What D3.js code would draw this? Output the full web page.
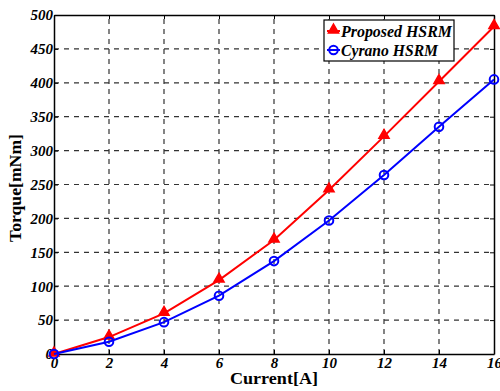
<!DOCTYPE html>
<html>
<head>
<meta charset="utf-8">
<script src="https://cdn.jsdelivr.net/npm/d3@7"></script>
<style>
  body { margin: 0; background: #fff; }
  svg { display: block; font-family: "Liberation Serif", "Times New Roman", serif; }
</style>
</head>
<body>
<div id="chart"></div>
<script>
const current = [0, 2, 4, 6, 8, 10, 12, 14, 16];
const proposedTorque = [0, 25, 60, 109, 168, 242, 321, 402, 483];
const cyranoTorque = [0, 18, 47, 86, 137, 197, 264, 335, 405];
const xTicks = [0, 2, 4, 6, 8, 10, 12, 14, 16];
const yTicks = [0, 50, 100, 150, 200, 250, 300, 350, 400, 450, 500];

const width = 500, height = 391;
const margin = { top: 15, right: 6, bottom: 37, left: 54 };

const svg = d3.select('#chart')
  .append('svg')
  .attr('width', width)
  .attr('height', height);

const x = d3.scaleLinear()
  .domain([0, 16])
  .range([margin.left, width - margin.right]);
const y = d3.scaleLinear()
  .domain([0, 500])
  .range([height - margin.bottom, margin.top]);

// dashed grid
const grid = svg.append('g')
  .attr('stroke', '#333')
  .attr('stroke-width', 1.2)
  .attr('stroke-dasharray', '5,5');
grid.selectAll('line.gx')
  .data(xTicks.slice(1, -1))
  .enter().append('line')
  .attr('x1', d => x(d)).attr('x2', d => x(d))
  .attr('y1', y(0)).attr('y2', y(500));
grid.selectAll('line.gy')
  .data(yTicks.slice(1, -1))
  .enter().append('line')
  .attr('y1', d => y(d)).attr('y2', d => y(d))
  .attr('x1', x(0)).attr('x2', x(16));

// axes with inward ticks
const xAxis = svg.append('g')
  .attr('transform', `translate(0,${y(0)})`)
  .call(d3.axisBottom(x).tickValues(xTicks).tickSizeInner(-4).tickSizeOuter(0).tickPadding(3));
const yAxis = svg.append('g')
  .attr('transform', `translate(${x(0)},0)`)
  .call(d3.axisLeft(y).tickValues(yTicks).tickSizeInner(-4).tickSizeOuter(0).tickPadding(1));
svg.append('g')
  .attr('transform', `translate(0,${y(500)})`)
  .call(d3.axisTop(x).tickValues(xTicks).tickSizeInner(-4).tickSizeOuter(0).tickFormat(''));
svg.append('g')
  .attr('transform', `translate(${x(16)},0)`)
  .call(d3.axisRight(y).tickValues(yTicks).tickSizeInner(-4).tickSizeOuter(0).tickFormat(''));

svg.selectAll('.domain').attr('stroke', '#000').attr('stroke-width', 1.5);
svg.selectAll('.tick line').attr('stroke', '#000');
[xAxis, yAxis].forEach(a => a.selectAll('text')
  .attr('font-family', '"Liberation Serif", serif')
  .attr('font-size', 15)
  .attr('font-weight', 'bold')
  .attr('font-style', 'italic')
  .attr('fill', '#000'));

// axis titles
svg.append('text')
  .attr('x', x(8))
  .attr('y', 384)
  .attr('text-anchor', 'middle')
  .attr('font-size', 16)
  .attr('font-weight', 'bold')
  .attr('textLength', 88)
  .attr('lengthAdjust', 'spacingAndGlyphs')
  .text('Current[A]');
svg.append('text')
  .attr('transform', `translate(21,${(133 + 243) / 2}) rotate(-90)`)
  .attr('text-anchor', 'middle')
  .attr('font-size', 17)
  .attr('font-weight', 'bold')
  .attr('textLength', 108)
  .attr('lengthAdjust', 'spacingAndGlyphs')
  .text('Torque[mNm]');

const line = d3.line()
  .x((d, i) => x(current[i]))
  .y(d => y(d));

const triangle = d3.symbol().type(d3.symbolTriangle).size(45);

// proposed series
svg.append('path')
  .datum(proposedTorque)
  .attr('fill', 'none')
  .attr('stroke', '#ff0000')
  .attr('stroke-width', 2)
  .attr('d', line);
svg.selectAll('path.tri')
  .data(proposedTorque)
  .enter().append('path')
  .attr('class', 'tri')
  .attr('transform', (d, i) => `translate(${x(current[i])},${y(d) - 1})`)
  .attr('d', triangle)
  .attr('fill', '#ff0000')
  .attr('stroke', '#ff0000')
  .attr('stroke-width', 1.5);

// cyrano series
svg.append('path')
  .datum(cyranoTorque)
  .attr('fill', 'none')
  .attr('stroke', '#0000ff')
  .attr('stroke-width', 2)
  .attr('d', line);
svg.selectAll('circle.cy')
  .data(cyranoTorque)
  .enter().append('circle')
  .attr('class', 'cy')
  .attr('cx', (d, i) => x(current[i]))
  .attr('cy', d => y(d))
  .attr('r', 4.3)
  .attr('fill', 'none')
  .attr('stroke', '#0000ff')
  .attr('stroke-width', 2);

// legend
const legend = svg.append('g').attr('transform', 'translate(324,20)');
legend.append('rect')
  .attr('width', 130).attr('height', 41)
  .attr('fill', '#fff')
  .attr('stroke', '#000')
  .attr('stroke-width', 1.2);
const items = [
  { name: 'Proposed HSRM', color: '#ff0000', mark: 'tri' },
  { name: 'Cyrano HSRM', color: '#0000ff', mark: 'circle' }
];
items.forEach((it, i) => {
  const g = legend.append('g').attr('transform', `translate(0,${11 + i * 19})`);
  g.append('line')
    .attr('x1', 3).attr('x2', 16)
    .attr('stroke', it.color).attr('stroke-width', 2);
  if (it.mark === 'tri') {
    g.append('path')
      .attr('transform', 'translate(9.5,-1)')
      .attr('d', triangle)
      .attr('fill', it.color).attr('stroke', it.color).attr('stroke-width', 1.5);
  } else {
    g.append('circle')
      .attr('cx', 9.5).attr('r', 4.3)
      .attr('fill', 'none').attr('stroke', it.color).attr('stroke-width', 2);
  }
  g.append('text')
    .attr('x', 17)
    .attr('y', 6)
    .attr('font-size', 17)
    .attr('font-weight', 'bold')
    .attr('font-style', 'italic')
    .attr('textLength', i === 0 ? 111 : 97)
    .attr('lengthAdjust', 'spacingAndGlyphs')
    .text(it.name);
});
</script>
</body>
</html>
